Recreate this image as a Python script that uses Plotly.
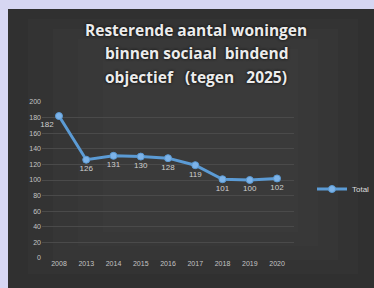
import plotly.graph_objects as go

years = ["2008", "2013", "2014", "2015", "2016", "2017", "2018", "2019", "2020"]
total = [182, 126, 131, 130, 128, 119, 101, 100, 102]
y_ticks = [0, 20, 40, 60, 80, 100, 120, 140, 160, 180, 200]
title_lines = ["Resterende aantal woningen",
               "binnen sociaal  bindend",
               "objectief \u00a0 (tegen \u00a0 2025)"]

W, H = 374, 288
L, R, T, B = 42, 80, 102, 30
pw, ph = W - L - R, H - T - B

def px(x):
    return (x - L) / pw

def py(y):
    return (H - B - y) / ph

fig = go.Figure()
fig.add_trace(go.Scatter(
    x=years, y=total, name="Total", mode="lines+markers+text",
    line=dict(color="#5b9bd5", width=3),
    marker=dict(size=7, color="#7db3e8", line=dict(color="#5b9bd5", width=1)),
    text=[str(v) for v in total],
    textposition=["bottom left"] + ["bottom center"] * (len(total) - 1),
    textfont=dict(size=8, color="#d0d0d0", family="Liberation Sans"),
    cliponaxis=False,
))

shapes = []
for a, b in [(20, 20), (45, 40), (70, 60), (95, 80)]:
    shapes.append(dict(type="rect", xref="paper", yref="paper", layer="below",
                       x0=px(8 + a), x1=px(374 - a * 0.8),
                       y0=py(288 - b * 0.7), y1=py(9 + b * 0.5),
                       fillcolor="rgba(95,95,95,0.06)", line=dict(width=0)))

lav = "#d6d6f2"
ann = [
    dict(text=" ", xref="paper", yref="paper", x=px(0), y=py(0),
         xanchor="left", yanchor="top", width=8, height=300, showarrow=False,
         bgcolor=lav, borderpad=0, borderwidth=0, font=dict(size=2)),
    dict(text=" ", xref="paper", yref="paper", x=px(0), y=py(0),
         xanchor="left", yanchor="top", width=380, height=9, showarrow=False,
         bgcolor=lav, borderpad=0, borderwidth=0, font=dict(size=2)),
]
for t, yy in zip(title_lines, [30, 53, 77]):
    ann.append(dict(text="<b>" + t + "</b>", xref="paper", yref="paper",
                    x=px(196), y=py(yy), xanchor="center", yanchor="middle",
                    showarrow=False,
                    font=dict(size=15.5, color="#ececec", family="Open Sans",
                              shadow="0px 0px 3px #000")))

fig.update_layout(
    width=W, height=H,
    margin=dict(l=L, r=R, t=T, b=B, autoexpand=False),
    paper_bgcolor="#303030",
    plot_bgcolor="rgba(0,0,0,0)",
    shapes=shapes,
    annotations=ann,
    showlegend=True,
    legend=dict(x=px(312), y=py(189), xanchor="left", yanchor="middle",
                bgcolor="rgba(0,0,0,0)",
                font=dict(size=8, color="#dddddd", family="Liberation Sans"),
                itemwidth=30),
    xaxis=dict(type="category", showgrid=False, zeroline=False,
               showline=False, ticks="",
               tickfont=dict(size=7, color="#c4c4c4", family="Liberation Sans")),
    yaxis=dict(range=[0, 200], tickvals=y_ticks, showgrid=True,
               gridcolor="#4a4a4a", gridwidth=1, zeroline=False,
               showline=False, ticks="",
               tickfont=dict(size=7, color="#c4c4c4", family="Liberation Sans")),
)

fig.write_html("out.html", config={"displayModeBar": False},
               post_script="document.body.style.margin='0';"
                           "document.body.style.overflow='hidden';"
                           "document.documentElement.style.overflow='hidden';")
